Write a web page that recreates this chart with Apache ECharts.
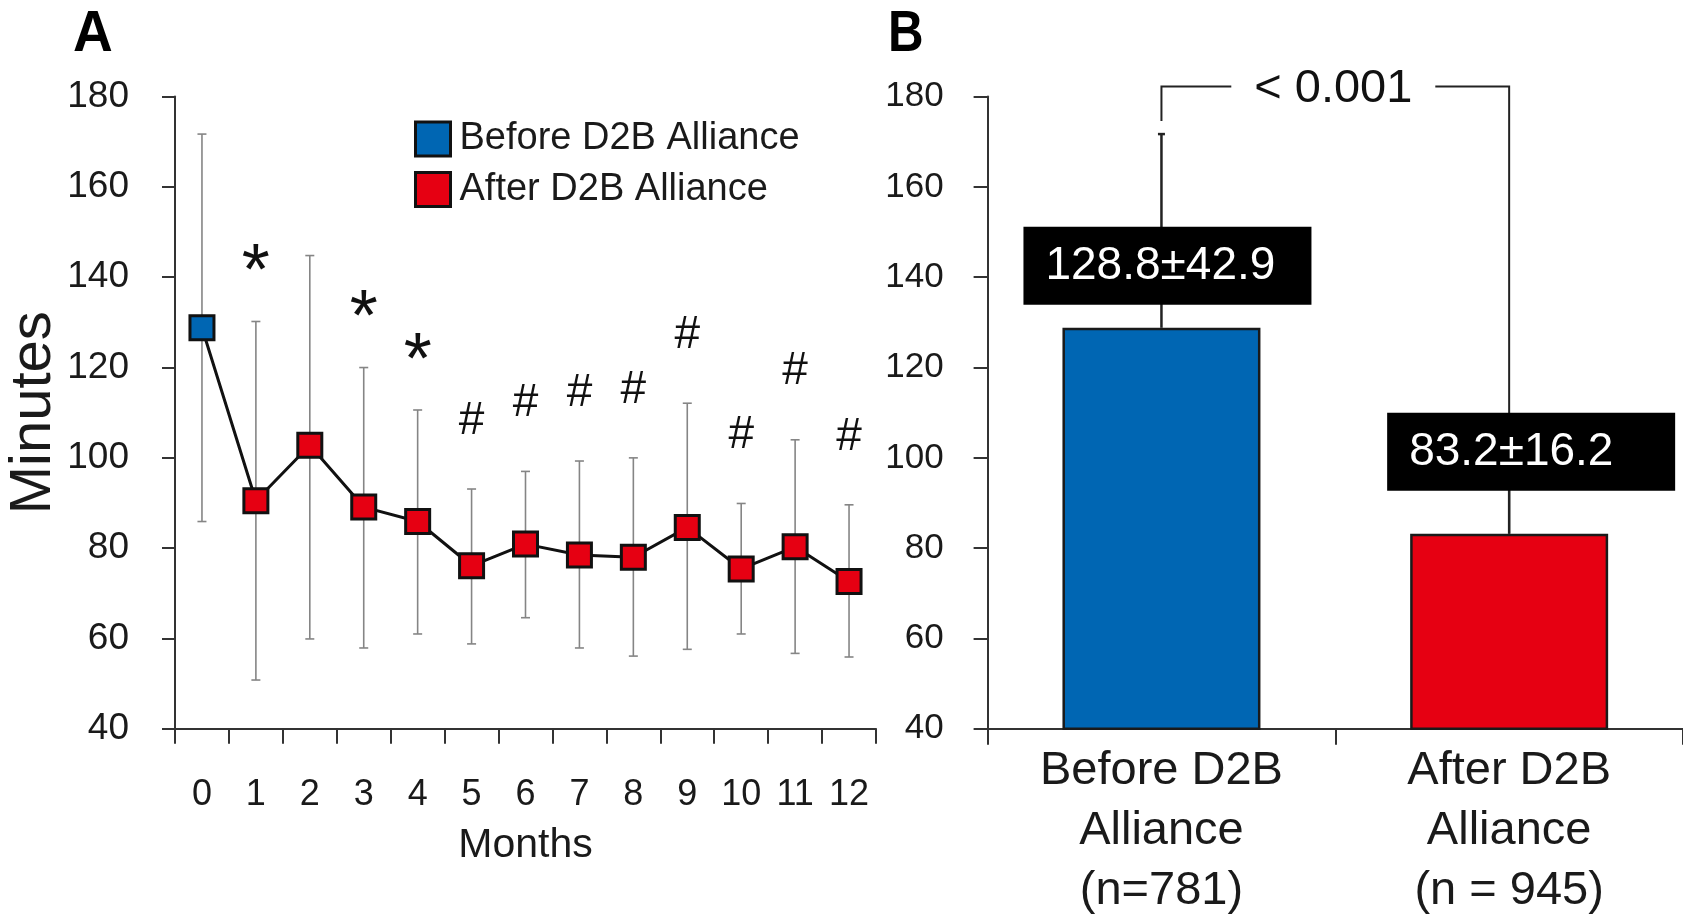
<!DOCTYPE html>
<html>
<head>
<meta charset="utf-8">
<script src="https://cdn.jsdelivr.net/npm/echarts@6/dist/echarts.min.js"></script>
<style>html,body{margin:0;padding:0;background:#fff}#c{width:1683px;height:916px}</style>
</head>
<body>
<div id="c"></div>
<script>
// ---- Panel A data ----
const months = ['0','1','2','3','4','5','6','7','8','9','10','11','12'];
const meanMinutes = [128.8, 90.5, 102.8, 89.1, 85.9, 76.1, 80.9, 78.5, 78.0, 84.6, 75.4, 80.3, 72.6];
const upperBound  = [171.7, 130.2, 144.8, 120.0, 110.6, 93.1, 97.0, 99.3, 100.0, 112.1, 89.9, 104.0, 89.6];
const lowerBound  = [85.9, 50.8, 59.9, 57.9, 61.0, 58.8, 64.6, 57.9, 56.1, 57.6, 61.0, 56.7, 55.9];
const sigMarks    = ['', '*', '', '*', '*', '#', '#', '#', '#', '#', '#', '#', '#'];
const legendNames = ['Before D2B Alliance', 'After D2B Alliance'];
// ---- Panel B data ----
const groupNames  = ['Before D2B\nAlliance\n(n=781)', 'After D2B\nAlliance\n(n = 945)'];
const groupMean   = [128.8, 83.2];
const groupSD     = [42.9, 16.2];
const groupLabels = ['128.8\u00b142.9', '83.2\u00b116.2'];
const pValueText  = '< 0.001';
// ---- shared axis ----
const yMin = 40, yMax = 180, yStep = 20;

const FONT = '"Liberation Sans", Arial, Helvetica, sans-serif';
const BLUE = '#0066b3', RED = '#e60012', INK = '#1a1a1a';
const axisLine = {show: true, lineStyle: {color: '#333', width: 2}};

const chart = echarts.init(document.getElementById('c'), null, {renderer: 'canvas'});

const option = {
  animation: false,
  backgroundColor: '#fff',
  textStyle: {fontFamily: FONT},
  graphic: [
    {type: 'text', left: 73, top: 6, style: {text: 'A', font: 'bold 58px ' + FONT, fill: '#000'}, scaleX: 0.95},
    {type: 'text', left: 888, top: 6, style: {text: 'B', font: 'bold 58px ' + FONT, fill: '#000'}, scaleX: 0.85}
  ],
  grid: [
    {left: 175, right: 807, top: 96.6, bottom: 187.2, containLabel: false, outerBoundsMode: 'none'},
    {left: 987.6, right: 0, top: 96.6, bottom: 187.2, containLabel: false, outerBoundsMode: 'none'}
  ],
  legend: {
    data: legendNames, orient: 'vertical', left: 414, top: 120, padding: 0,
    itemWidth: 35, itemHeight: 34, itemGap: 12.5, icon: 'rect',
    itemStyle: {borderColor: '#111', borderWidth: 3},
    textStyle: {fontSize: 38, color: INK, fontFamily: FONT, lineHeight: 34, padding: [0, 0, 0, 4]}
  },
  xAxis: [
    {type: 'category', gridIndex: 0, data: months,
     axisLine: axisLine, axisTick: {show: true, length: 15, lineStyle: {color: '#333', width: 2}},
     axisLabel: {fontSize: 36, color: INK, margin: 48, interval: 0, fontFamily: FONT},
     name: 'Months', nameLocation: 'middle', nameGap: 96,
     nameTextStyle: {fontSize: 41, color: INK, fontFamily: FONT}},
    {type: 'category', gridIndex: 1, data: groupNames,
     axisLine: axisLine, axisTick: {show: true, length: 16, lineStyle: {color: '#333', width: 2}},
     axisLabel: {fontSize: 47, lineHeight: 60, color: INK, margin: 12, interval: 0, fontFamily: FONT}}
  ],
  yAxis: [
    {type: 'value', gridIndex: 0, min: yMin, max: yMax, interval: yStep,
     splitLine: {show: false}, axisLine: axisLine,
     axisTick: {show: true, length: 13, lineStyle: {color: '#333', width: 2}},
     axisLabel: {fontSize: 37, color: INK, margin: 46, fontFamily: FONT},
     name: 'Minutes', nameLocation: 'middle', nameGap: 92, nameRotate: 90,
     nameTextStyle: {fontSize: 58, color: INK, fontFamily: FONT}},
    {type: 'value', gridIndex: 1, min: yMin, max: yMax, interval: yStep,
     splitLine: {show: false}, axisLine: axisLine,
     axisTick: {show: true, length: 14, lineStyle: {color: '#333', width: 2}},
     axisLabel: {fontSize: 35, color: INK, margin: 44, fontFamily: FONT}}
  ],
  series: [
    {
      type: 'custom', name: 'errA', xAxisIndex: 0, yAxisIndex: 0, z: 1, silent: true, clip: false,
      data: months.map((m, i) => [i, upperBound[i], lowerBound[i]]),
      encode: {x: 0, y: [1, 2]},
      renderItem: function (params, api) {
        const i = api.value(0);
        const top = api.coord([i, api.value(1)]);
        const bot = api.coord([i, api.value(2)]);
        const cw = 4.5;
        const st = {stroke: '#858585', lineWidth: 1.6};
        const children = [
          {type: 'line', shape: {x1: top[0], y1: top[1], x2: bot[0], y2: bot[1]}, style: st},
          {type: 'line', shape: {x1: top[0] - cw, y1: top[1], x2: top[0] + cw, y2: top[1]}, style: st},
          {type: 'line', shape: {x1: bot[0] - cw, y1: bot[1], x2: bot[0] + cw, y2: bot[1]}, style: st}
        ];
        const mk = sigMarks[params.dataIndex];
        if (mk) {
          const star = mk === '*';
          children.push({type: 'text', style: {
            text: mk, x: top[0], y: top[1] - (star ? 47 : 68),
            align: 'center', verticalAlign: 'middle',
            font: (star ? '72px ' : '46px ') + FONT, fill: '#111'}});
        }
        return {type: 'group', children: children};
      }
    },
    {
      type: 'line', name: 'trend', xAxisIndex: 0, yAxisIndex: 0, z: 2, silent: true,
      data: meanMinutes, symbol: 'none', lineStyle: {color: '#111', width: 3}
    },
    {
      type: 'scatter', name: legendNames[0], xAxisIndex: 0, yAxisIndex: 0, z: 3,
      data: meanMinutes.map((v, i) => i === 0 ? v : '-'),
      symbol: 'rect', symbolSize: 24,
      itemStyle: {color: BLUE, borderColor: '#111', borderWidth: 3, opacity: 1}
    },
    {
      type: 'scatter', name: legendNames[1], xAxisIndex: 0, yAxisIndex: 0, z: 3,
      data: meanMinutes.map((v, i) => i === 0 ? '-' : v),
      symbol: 'rect', symbolSize: 24,
      itemStyle: {color: RED, borderColor: '#111', borderWidth: 3, opacity: 1}
    },
    {
      type: 'bar', name: 'groups', xAxisIndex: 1, yAxisIndex: 1, z: 2, barWidth: 198,
      data: groupMean.map((v, i) => ({value: v, itemStyle: {color: i === 0 ? BLUE : RED}})),
      itemStyle: {borderColor: '#1a1a1a', borderWidth: 2.5}
    },
    {
      type: 'custom', name: 'errB', xAxisIndex: 1, yAxisIndex: 1, z: 3, silent: true, clip: false,
      data: groupMean.map((m, i) => [i, m, m + groupSD[i]]),
      encode: {x: 0, y: [1, 2]},
      renderItem: function (params, api) {
        const i = api.value(0);
        const base = api.coord([i, api.value(1)]);
        const top = api.coord([i, api.value(2)]);
        const st = {stroke: '#222', lineWidth: 2.5};
        const children = [
          {type: 'line', shape: {x1: base[0], y1: base[1], x2: top[0], y2: top[1]}, style: st},
          {type: 'line', shape: {x1: top[0] - 3.5, y1: top[1], x2: top[0] + 3.5, y2: top[1]}, style: st}
        ];
        if (params.dataIndex === 0) {
          const pL = top;
          const pR = api.coord([1, groupMean[1]]);
          const yTop = api.coord([0, yMax])[1] - 10;
          const mid = (pL[0] + pR[0]) / 2;
          const bs = {stroke: '#222', lineWidth: 2};
          children.push(
            {type: 'polyline', shape: {points: [[pL[0], pL[1] - 13], [pL[0], yTop], [mid - 104, yTop]]}, style: Object.assign({fill: 'none'}, bs)},
            {type: 'polyline', shape: {points: [[mid + 100, yTop], [pR[0], yTop], [pR[0], pR[1]]]}, style: Object.assign({fill: 'none'}, bs)},
            {type: 'text', style: {text: pValueText, x: mid - 2, y: yTop + 2, align: 'center', verticalAlign: 'middle', font: '47px ' + FONT, fill: '#111'}}
          );
        }
        return {type: 'group', children: children};
      }
    },
    {
      type: 'custom', name: 'labelsB', xAxisIndex: 1, yAxisIndex: 1, z: 5, silent: true, clip: false,
      data: groupMean.map((m, i) => [i, m]),
      encode: {x: 0, y: 1},
      renderItem: function (params, api) {
        const i = params.dataIndex;
        const p = api.coord([api.value(0), api.value(1)]);
        const dx = [6, 22][i], gap = [23, 43][i];
        const w = 288, h = 78;
        const left = p[0] + dx - w / 2, bottom = p[1] - gap;
        return {type: 'group', children: [
          {type: 'rect', shape: {x: left, y: bottom - h, width: w, height: h}, style: {fill: '#000'}},
          {type: 'text', style: {text: groupLabels[i], x: left + 22, y: bottom - h / 2 + 1,
            align: 'left', verticalAlign: 'middle', font: '46px ' + FONT, fill: '#fff'}}
        ]};
      }
    }
  ]
};
chart.setOption(option);
</script>
</body>
</html>
